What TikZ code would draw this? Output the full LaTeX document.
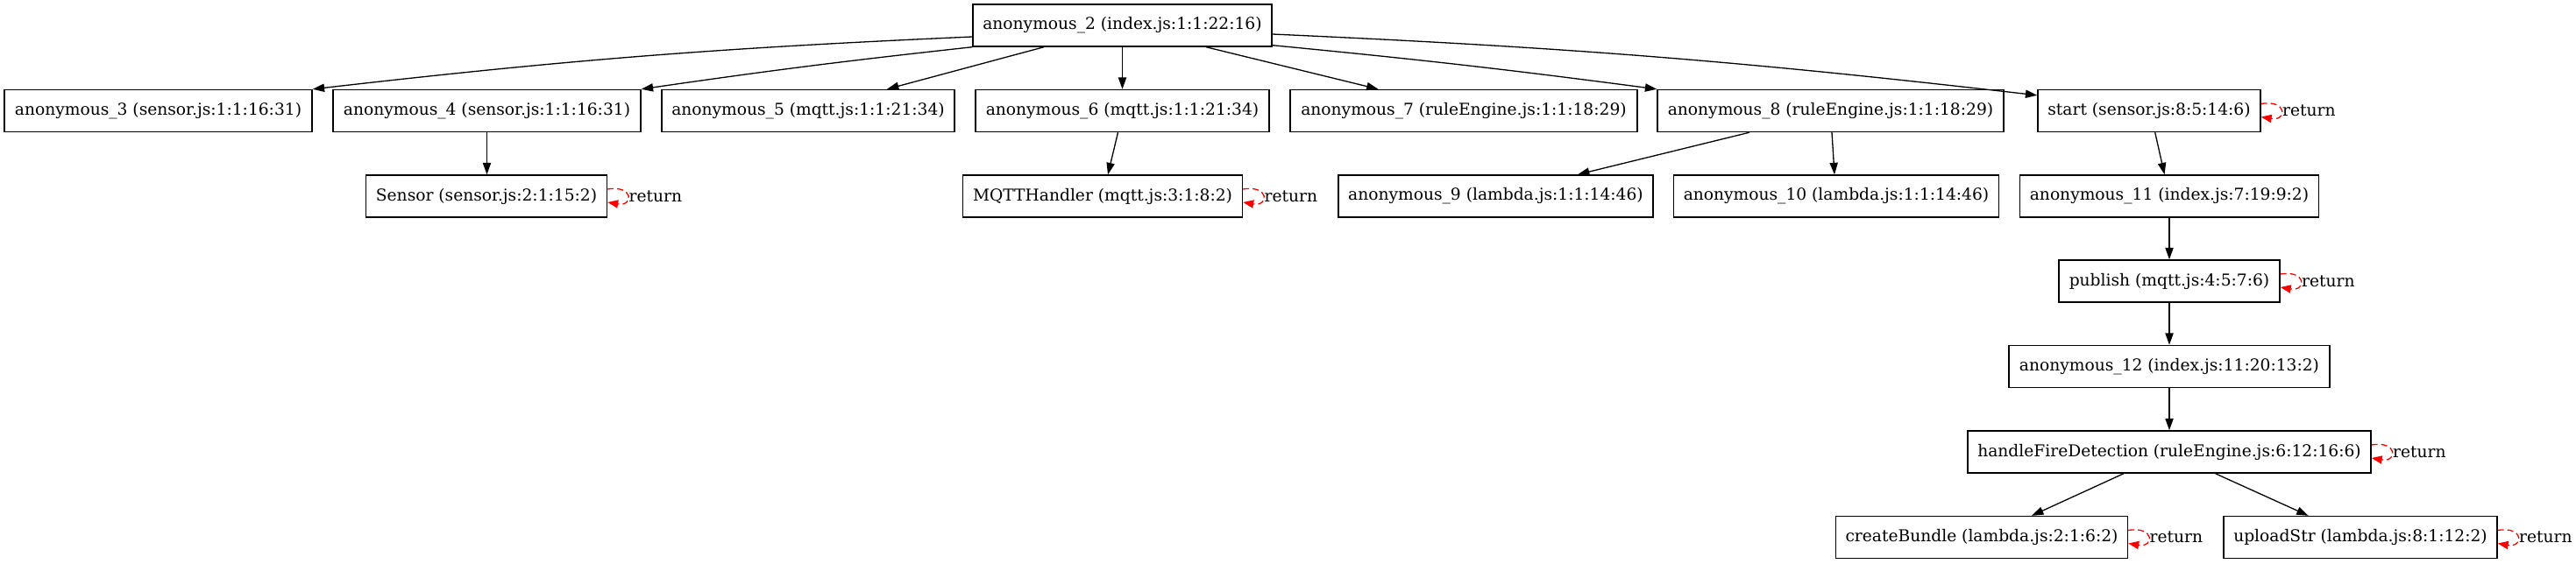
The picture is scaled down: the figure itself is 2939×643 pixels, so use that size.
\documentclass[tikz,border=0pt]{standalone}
\usepackage{fontspec}
\setmainfont{DejaVu Serif}
\usetikzlibrary{arrows.meta,calc}
\tikzset{
  box/.style={draw, line width=0.7pt, minimum height=24pt, inner xsep=1pt, inner ysep=0pt, font=\fontsize{9.33}{11}\selectfont, minimum width=#1},
  edge/.style={line width=0.65pt, -{Triangle[length=6.7pt,width=4.6pt]}},
  retedge/.style={red, dash pattern=on 3.5pt off 2pt, line width=0.65pt, -{Triangle[length=6pt,width=4.6pt]}},
  retlabel/.style={anchor=west, inner sep=0pt, font=\fontsize{9.33}{11}\selectfont}
}
\newcommand\retloop[1]{%
  \draw[retedge] ($(#1.east)+(0,-8)$) .. controls +(30,-5) and +(30,5) .. ($(#1.east)+(0,7)$);
  \node[retlabel] (#1ret) at ($(#1.east)+(24,0)$) {return};
}
\begin{document}
\begin{tikzpicture}[x=0.5pt,y=-0.5pt]
\useasboundingbox (0,0) rectangle (2939,643);
% row 1
\node[box=170.5pt] (a2) at (1280.5,29) {anonymous\_2 (index.js:1:1:22:16)};
% row 2
\node[box=175.5pt] (a3) at (180.5,126.5) {anonymous\_3 (sensor.js:1:1:16:31)};
\node[box=175.5pt] (a4) at (555.5,126.5) {anonymous\_4 (sensor.js:1:1:16:31)};
\node[box=167pt] (a5) at (922,126.5) {anonymous\_5 (mqtt.js:1:1:21:34)};
\node[box=167.5pt] (a6) at (1280.5,126.5) {anonymous\_6 (mqtt.js:1:1:21:34)};
\node[box=198pt] (a7) at (1670,126.5) {anonymous\_7 (ruleEngine.js:1:1:18:29)};
\node[box=197.5pt] (a8) at (2088.5,126.5) {anonymous\_8 (ruleEngine.js:1:1:18:29)};
\node[box=127pt] (st) at (2452,126.5) {start (sensor.js:8:5:14:6)};
% row 3
\node[box=137.5pt] (sensor) at (555,224) {Sensor (sensor.js:2:1:15:2)};
\node[box=159.5pt] (mqtt) at (1258,224) {MQTTHandler (mqtt.js:3:1:8:2)};
\node[box=179.5pt] (a9) at (1706.5,224) {anonymous\_9 (lambda.js:1:1:14:46)};
\node[box=185.5pt] (a10) at (2095,224) {anonymous\_10 (lambda.js:1:1:14:46)};
\node[box=170.5pt] (a11) at (2475,224) {anonymous\_11 (index.js:7:19:9:2)};
% rows 4-7
\node[box=126pt] (pub) at (2475,321) {publish (mqtt.js:4:5:7:6)};
\node[box=183pt] (a12) at (2475,418.5) {anonymous\_12 (index.js:11:20:13:2)};
\node[box=230pt] (hfd) at (2475,516) {handleFireDetection (ruleEngine.js:6:12:16:6)};
\node[box=166.5pt] (cb) at (2261,613.5) {createBundle (lambda.js:2:1:6:2)};
\node[box=156pt] (us) at (2693,613.5) {uploadStr (lambda.js:8:1:12:2)};
% edges from a2
\draw[edge] ($(a2.west)+(0,13)$) to[bend right=2] (a3.north east);
\draw[edge] (a2.south west) to[bend right=1] (a4.north east);
\draw[edge] ($(a2.south)+(-89.5,0)$) -- ($(a5.north)+(90,0)$);
\draw[edge] (a2.south) -- (a2.south |- a6.north);
\draw[edge] ($(a2.south)+(95.5,0)$) -- ($(a7.north)+(-97.5,0)$);
\draw[edge] ($(a2.south east)+(0,-2)$) to[bend left=1] (a8.north west);
\draw[edge] ($(a2.east)+(0,10)$) to[bend left=2] ($(st.north west)+(0,7)$);
% other edges
\draw[edge] (a4.south) -- (a4.south |- sensor.north);
\draw[edge] ($(a6.south)+(-5,0)$) -- ($(mqtt.north)+(6,0)$);
\draw[edge] ($(a8.south)+(-92.5,0)$) -- ($(a9.north)+(93.5,0)$);
\draw[edge] ($(a8.south)+(1.5,0)$) -- ($(a10.north)+(-2,0)$);
\draw[edge] ($(st.south)+(6.7,0)$) -- ($(a11.north)+(-5.5,0)$);
\draw[edge] (a11.south) -- (pub.north);
\draw[edge] (pub.south) -- (a12.north);
\draw[edge] (a12.south) -- (hfd.north);
\draw[edge] ($(hfd.south)+(-52,0)$) -- ($(cb.north)+(57,0)$);
\draw[edge] ($(hfd.south)+(52.5,0)$) -- ($(us.north)+(-59.4,0)$);
% return loops
\retloop{sensor}
\retloop{mqtt}
\retloop{st}
\retloop{pub}
\retloop{hfd}
\retloop{cb}
\retloop{us}
\end{tikzpicture}
\end{document}
